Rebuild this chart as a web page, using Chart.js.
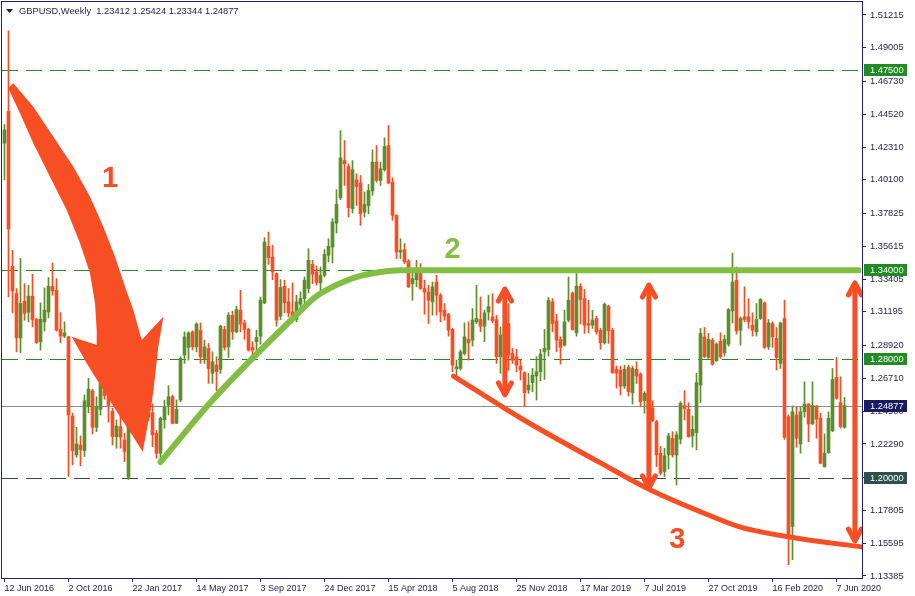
<!DOCTYPE html>
<html><head><meta charset="utf-8">
<script src="https://cdn.jsdelivr.net/npm/chart.js@4.4.1/dist/chart.umd.min.js"></script>
<style>html,body{margin:0;padding:0;background:#fff;}canvas{display:block}</style>
</head><body>
<canvas id="c" width="915" height="596"></canvas>
<script>
// ---- data (weekly GBPUSD candles, index 0 = week of 12 Jun 2016) ----
const opens = [
1.4257,1.4472,1.3427,1.3243,1.2944,1.3191,1.3117,1.3225,1.3070,1.2918,
1.3052,1.3119,1.3292,1.3265,1.3003,1.2956,1.2951,1.2417,1.2155,1.2222,
1.2184,1.2480,1.2588,1.2341,1.2462,1.2630,1.2550,1.2450,1.2278,1.2345,
1.2256,1.2005,1.2375,1.2550,1.2480,1.2485,1.2410,1.2440,1.2301,1.2166,
1.2392,1.2491,1.2547,1.2368,1.2525,1.2828,1.2880,1.2985,1.2884,1.2996,
1.2806,1.2873,1.2705,1.2761,1.2732,1.3001,1.2884,1.3097,1.2985,1.3131,
1.3045,1.3001,1.2880,1.2918,1.2956,1.3180,1.3562,1.3490,1.3378,1.3090,
1.3292,1.3187,1.3119,1.3068,1.3171,1.3209,1.3277,1.3440,1.3390,1.3315,
1.3366,1.3501,1.3557,1.3718,1.3889,1.4140,1.4100,1.3816,1.4010,1.3988,
1.3792,1.3837,1.3935,1.4129,1.4006,1.4078,1.4241,1.3994,1.3770,1.3523,
1.3539,1.3463,1.3310,1.3337,1.3411,1.3277,1.3254,1.3187,1.3321,1.3232,
1.3131,1.3104,1.3001,1.2736,1.2738,1.2839,1.2934,1.2929,1.3052,1.3068,
1.3023,1.3119,1.3086,1.3068,1.2817,1.2960,1.3040,1.2839,1.2817,1.2754,
1.2709,1.2593,1.2642,1.2687,1.2716,1.2850,1.2866,1.3187,1.3059,1.2934,
1.2895,1.3064,1.3247,1.2978,1.3292,1.3209,1.3041,1.3030,1.3075,1.2996,
1.2911,1.3158,1.2996,1.2733,1.2727,1.2619,1.2745,1.2574,1.2733,1.2700,
1.2521,1.2570,1.2470,1.2379,1.2166,1.2043,1.2155,1.2267,1.2155,1.2261,
1.2487,1.2462,1.2283,1.2305,1.2626,1.2951,1.2812,1.2929,1.2790,1.2922,
1.2844,1.2902,1.3126,1.3333,1.2996,1.3086,1.3086,1.3030,1.2985,1.3075,
1.3180,1.2884,1.3041,1.2940,1.2772,1.3075,1.2413,1.1673,1.2424,1.2229,
1.2446,1.2498,1.2364,1.2485,1.2402,1.2076,1.2171,1.2318,1.2678,1.2507,
1.23412];
const highs = [
1.4383,1.5015,1.3535,1.3277,1.3481,1.3310,1.3299,1.3373,1.3075,1.3180,
1.3281,1.3351,1.3449,1.3344,1.3115,1.3052,1.2955,1.2436,1.2341,1.2283,
1.2559,1.2671,1.2597,1.2547,1.2664,1.2700,1.2660,1.2470,1.2391,1.2430,
1.2301,1.2430,1.2675,1.2705,1.2580,1.2550,1.2570,1.2500,1.2320,1.2410,
1.2525,1.2622,1.2559,1.2525,1.2817,1.2985,1.2985,1.2992,1.3045,1.3045,
1.2929,1.2907,1.2850,1.2817,1.3030,1.3023,1.3115,1.3124,1.3158,1.3265,
1.3064,1.3008,1.2918,1.2996,1.3220,1.3620,1.3658,1.3568,1.3382,1.3337,
1.3333,1.3277,1.3315,1.3232,1.3254,1.3355,1.3546,1.3467,1.3430,1.3422,
1.3539,1.3613,1.3748,1.3943,1.4342,1.4275,1.4118,1.4140,1.4051,1.4039,
1.3928,1.3979,1.4212,1.4241,1.4129,1.4293,1.4376,1.4024,1.3775,1.3613,
1.3580,1.3472,1.3411,1.3467,1.3445,1.3333,1.3299,1.3321,1.3366,1.3243,
1.3176,1.3110,1.3008,1.2794,1.2862,1.3045,1.3052,1.3142,1.3299,1.3220,
1.3131,1.3232,1.3243,1.3097,1.3018,1.3175,1.3175,1.2873,1.2867,1.2799,
1.2716,1.2705,1.2738,1.2817,1.2867,1.3001,1.3216,1.3209,1.3104,1.2951,
1.3131,1.3355,1.3254,1.3378,1.3310,1.3270,1.3198,1.3131,1.3090,1.3008,
1.3180,1.3165,1.3008,1.2754,1.2754,1.2761,1.2761,1.2754,1.2783,1.2709,
1.2581,1.2580,1.2520,1.2390,1.2211,1.2200,1.2301,1.2312,1.2312,1.2514,
1.2588,1.2507,1.2417,1.2705,1.3008,1.3014,1.2974,1.2940,1.2911,1.2978,
1.2963,1.3142,1.3516,1.3422,1.3086,1.3288,1.3209,1.3113,1.3176,1.3209,
1.3187,1.3068,1.3052,1.3014,1.3050,1.3198,1.2424,1.2485,1.2480,1.2480,
1.2648,1.2500,1.2648,1.2489,1.2436,1.2296,1.2445,1.2738,1.2812,1.2682,
1.25424];
const lows = [
1.4010,1.3220,1.3113,1.2850,1.2843,1.3063,1.3052,1.3018,1.2907,1.2862,
1.2990,1.3079,1.3232,1.2990,1.2911,1.2945,1.2010,1.2088,1.2139,1.2081,
1.2144,1.2440,1.2296,1.2312,1.2424,1.2530,1.2375,1.2222,1.2200,1.2200,
1.2110,1.1990,1.2365,1.2410,1.2345,1.2380,1.2385,1.2210,1.2133,1.2106,
1.2335,1.2424,1.2364,1.2365,1.2514,1.2772,1.2794,1.2862,1.2850,1.2772,
1.2772,1.2637,1.2637,1.2588,1.2705,1.2862,1.2812,1.2934,1.2980,1.2985,
1.2934,1.2855,1.2812,1.2828,1.2902,1.3175,1.3440,1.3337,1.3023,1.3068,
1.3113,1.3086,1.3045,1.3052,1.3113,1.3180,1.3247,1.3310,1.3299,1.3247,
1.3355,1.3456,1.3449,1.3651,1.3876,1.3972,1.3759,1.3786,1.3837,1.3703,
1.3759,1.3781,1.3905,1.3994,1.3972,1.4068,1.3985,1.3737,1.3479,1.3479,
1.3445,1.3285,1.3198,1.3288,1.3270,1.3104,1.3041,1.3097,1.3097,1.3052,
1.3064,1.2956,1.2716,1.2682,1.2727,1.2828,1.2794,1.2889,1.3041,1.2985,
1.2918,1.3064,1.3045,1.2772,1.2705,1.2930,1.2725,1.2772,1.2716,1.2660,
1.2480,1.2570,1.2581,1.2525,1.2655,1.2664,1.2821,1.2985,1.2850,1.2767,
1.2889,1.3052,1.2996,1.2956,1.3037,1.2974,1.2978,1.3008,1.2969,1.2867,
1.2902,1.2907,1.2705,1.2605,1.2559,1.2604,1.2552,1.2498,1.2637,1.2480,
1.2436,1.2440,1.2380,1.2076,1.2020,1.2009,1.2060,1.2139,1.1953,1.2229,
1.2391,1.2274,1.2207,1.2189,1.2507,1.2812,1.2806,1.2761,1.2785,1.2806,
1.2821,1.2889,1.3045,1.2969,1.2895,1.3052,1.3008,1.2956,1.2956,1.3068,
1.2873,1.2867,1.2880,1.2727,1.2738,1.2260,1.1415,1.1448,1.2207,1.2167,
1.2409,1.2244,1.2360,1.2267,1.2094,1.2072,1.2165,1.2312,1.2530,1.2335,
1.23344];
const closes = [
1.4347,1.3678,1.3261,1.2944,1.3176,1.3109,1.3225,1.3068,1.2911,1.3070,
1.3131,1.3292,1.3261,1.2996,1.2956,1.2978,1.2424,1.2184,1.2229,1.2189,
1.2520,1.2599,1.2341,1.2480,1.2637,1.2555,1.2490,1.2278,1.2350,1.2275,
1.2178,1.2370,1.2550,1.2480,1.2490,1.2410,1.2470,1.2290,1.2166,1.2402,
1.2476,1.2547,1.2368,1.2462,1.2806,1.2951,1.2978,1.2884,1.3037,1.2816,
1.2884,1.2738,1.2783,1.2716,1.3023,1.2880,1.3097,1.2985,1.3135,1.3037,
1.3001,1.2862,1.2862,1.2947,1.3198,1.3590,1.3485,1.3389,1.3064,1.3284,
1.3180,1.3113,1.3064,1.3187,1.3209,1.3333,1.3467,1.3373,1.3318,1.3366,
1.3508,1.3562,1.3725,1.3844,1.4158,1.4118,1.3822,1.4078,1.3965,1.3781,
1.3844,1.3938,1.4129,1.4006,1.4084,1.4235,1.3988,1.3770,1.3523,1.3535,
1.3456,1.3288,1.3344,1.3411,1.3277,1.3254,1.3198,1.3288,1.3232,1.3119,
1.3090,1.2996,1.2761,1.2749,1.2850,1.2951,1.2911,1.3064,1.3075,1.3023,
1.3113,1.3155,1.3059,1.2817,1.2963,1.3040,1.2830,1.2794,1.2761,1.2727,
1.2574,1.2626,1.2693,1.2716,1.2835,1.2873,1.3198,1.3041,1.2929,1.2880,
1.3052,1.3198,1.3001,1.3292,1.3203,1.3030,1.3030,1.3064,1.2985,1.2911,
1.3171,1.2992,1.2709,1.2705,1.2619,1.2733,1.2581,1.2738,1.2687,1.2514,
1.2570,1.2470,1.2385,1.2155,1.2032,1.2148,1.2283,1.2155,1.2290,1.2503,
1.2469,1.2278,1.2328,1.2642,1.2974,1.2817,1.2934,1.2767,1.2902,1.2817,
1.2934,1.3135,1.3321,1.2992,1.3075,1.3068,1.3052,1.2996,1.3068,1.3203,
1.2880,1.3045,1.2951,1.2812,1.3045,1.2274,1.1617,1.2446,1.2267,1.2446,
1.2498,1.2364,1.2489,1.2395,1.2099,1.2166,1.2402,1.2664,1.2537,1.2346,
1.24877];

const dateLabels = ['12 Jun 2016','2 Oct 2016','22 Jan 2017','14 May 2017','3 Sep 2017','24 Dec 2017','15 Apr 2018','5 Aug 2018','25 Nov 2018','17 Mar 2019','7 Jul 2019','27 Oct 2019','16 Feb 2020','7 Jun 2020'];
const dateTickIndex = [0,16,32,48,64,80,96,112,128,144,160,176,192,208];
const priceTicks = [1.51215,1.49005,1.46730,1.44520,1.42310,1.40100,1.37825,1.35615,1.33405,1.31195,1.28920,1.26710,1.24500,1.22290,1.20015,1.17805,1.15595,1.13385];
const levelPrices = [1.47500, 1.34000, 1.28000, 1.20000];
const lastPrice = 1.24877;
const symbolName = 'GBPUSD,Weekly';
const lastBar = [1.23412, 1.25424, 1.23344, 1.24877];

// annotation "2": green support/resistance curve (index, price)
const trend2X = [39, 52.25, 74, 77.75, 81.5, 85.25, 89, 94, 99, 213.5];
const trend2Y = [1.2107, 1.2532, 1.3126, 1.3220, 1.3281, 1.3328, 1.3362, 1.3389, 1.3400, 1.3400];
// annotation "3": red descending curve
const curve3X = [112.25, 129, 149, 161.5, 174, 184, 199, 214.5];
const curve3Y = [1.2687, 1.2404, 1.2101, 1.1919, 1.1772, 1.1668, 1.1590, 1.1534];
// annotation "1": big curved arrow outline (index, price)
const arrow1X = [0.95, 2.2, 7.2, 12.2, 17.2, 21.375, 24.7, 27.625, 30.125, 32.2, 34.3, 39.7, 38.45, 37.625, 36.8, 35.55, 34.55,
  32.2, 28.875, 24.7, 20.55, 16.8, 23.05, 23.05, 22.625, 21.375, 18.875, 15.55, 11.375, 7.2, 3.875];
const arrow1Y = [1.46272, 1.46610, 1.45032, 1.43009, 1.40986, 1.38963, 1.36940, 1.34917, 1.32894, 1.31323, 1.29300, 1.30871, 1.28849, 1.26826, 1.25032, 1.23232, 1.21768,
  1.22780, 1.24128, 1.25929, 1.27729, 1.29523, 1.28963, 1.29975, 1.31775, 1.33798, 1.35821, 1.38066, 1.40312, 1.42564, 1.44587];
// double-headed range arrows
const dArrowX = [125.1, 161.1, 212.6];
const dArrowTop = [1.3287, 1.3314, 1.3328];
const dArrowBottom = [1.2546, 1.1919, 1.1561];
// numbered notes
const noteText = ['1', '2', '3'];
const noteX = [26.4, 112, 168.2];
const noteY = [1.4016, 1.3537, 1.1581];

// ---- styles ----
const RED = '#F84E24', GREEN_C = '#5B8F2C', LIME = '#82BE44', NAVY = '#20206e', TXT = '#1c1c4c';
const levelColors = ['#238b23', '#238b23', '#238b23', '#2f4f4f'];
const levelBoxColors = ['#238b23', '#238b23', '#238b23', '#2f4f4f'];
const FONT = 'Liberation Sans, Arial, sans-serif';

const idx = opens.map((_, i) => i);
const candleColors = idx.map(i => closes[i] >= opens[i] ? GREEN_C : RED);

const overlay = {
  id: 'overlay',
  beforeDatasetsDraw(chart) {
    const {ctx, chartArea: a, scales: {y}} = chart;
    ctx.save();
    ctx.beginPath(); ctx.rect(a.left, a.top, a.right - a.left, a.bottom - a.top); ctx.clip();
    ctx.lineWidth = 1;
    levelPrices.forEach((p, k) => {
      const py = Math.round(y.getPixelForValue(p)) + 0.5;
      ctx.strokeStyle = levelColors[k];
      ctx.setLineDash([16, 8]);
      ctx.beginPath(); ctx.moveTo(a.left, py); ctx.lineTo(a.right, py); ctx.stroke();
    });
    ctx.setLineDash([]);
    const ly = Math.round(y.getPixelForValue(lastPrice)) + 0.5;
    ctx.strokeStyle = '#8a9099';
    ctx.beginPath(); ctx.moveTo(a.left, ly); ctx.lineTo(a.right, ly); ctx.stroke();
    ctx.restore();
  },
  afterDatasetsDraw(chart) {
    const {ctx, chartArea: a, scales: {x, y}} = chart;
    ctx.save();
    ctx.beginPath(); ctx.rect(a.left, a.top, a.right - a.left, a.bottom - a.top); ctx.clip();
    // arrow 1
    ctx.fillStyle = RED;
    ctx.beginPath();
    arrow1X.forEach((v, k) => {
      const px = x.getPixelForValue(v), py = y.getPixelForValue(arrow1Y[k]);
      if (k === 0) ctx.moveTo(px, py); else ctx.lineTo(px, py);
    });
    ctx.closePath(); ctx.fill();
    // double arrows
    ctx.strokeStyle = RED; ctx.lineWidth = 5; ctx.lineCap = 'round'; ctx.lineJoin = 'round';
    dArrowX.forEach((v, k) => {
      const px = x.getPixelForValue(v);
      const t = y.getPixelForValue(dArrowTop[k]) + 2, b = y.getPixelForValue(dArrowBottom[k]) - 2;
      ctx.beginPath(); ctx.moveTo(px, t + 2); ctx.lineTo(px, b - 2); ctx.stroke();
      ctx.beginPath(); ctx.moveTo(px - 6.5, t + 12); ctx.lineTo(px, t); ctx.lineTo(px + 6.5, t + 12); ctx.stroke();
      ctx.beginPath(); ctx.moveTo(px - 6.5, b - 12); ctx.lineTo(px, b); ctx.lineTo(px + 6.5, b - 12); ctx.stroke();
    });
    // notes
    ctx.font = 'bold 29px ' + FONT; ctx.textAlign = 'center'; ctx.textBaseline = 'middle';
    noteText.forEach((s, k) => {
      ctx.fillStyle = k === 1 ? LIME : RED;
      ctx.fillText(s, x.getPixelForValue(noteX[k]), y.getPixelForValue(noteY[k]));
    });
    ctx.restore();
  },
  afterDraw(chart) {
    const {ctx, chartArea: a, scales: {y}} = chart;
    ctx.save();
    ctx.strokeStyle = NAVY; ctx.lineWidth = 1;
    ctx.strokeRect(a.left - 0.5, a.top - 0.5, a.right - a.left + 1, a.bottom - a.top + 1);
    ctx.font = '9.3px ' + FONT; ctx.textBaseline = 'middle'; ctx.textAlign = 'left';
    const box = (p, bg) => {
      const py = Math.round(y.getPixelForValue(p));
      ctx.fillStyle = bg; ctx.fillRect(a.right + 2, py - 6, 43, 12);
      ctx.fillStyle = '#ffffff'; ctx.fillText(p.toFixed(5), a.right + 8, py + 0.5);
    };
    levelPrices.forEach((p, k) => box(p, levelBoxColors[k]));
    box(lastPrice, '#1b1b5e');
    // header
    ctx.fillStyle = TXT;
    ctx.beginPath(); ctx.moveTo(6, 9); ctx.lineTo(13, 9); ctx.lineTo(9.5, 13); ctx.closePath(); ctx.fill();
    ctx.fillText(symbolName + '  ' + lastBar.map(v => v.toFixed(5)).join(' '), 19, 11);
    ctx.restore();
  }
};

new Chart(document.getElementById('c'), {
  type: 'bar',
  data: {
    datasets: [
      { type: 'line', data: trend2X.map((v, k) => ({x: v, y: trend2Y[k]})), borderColor: LIME, borderWidth: 6,
        pointRadius: 0, fill: false, cubicInterpolationMode: 'monotone', borderCapStyle: 'round' },
      { type: 'line', data: curve3X.map((v, k) => ({x: v, y: curve3Y[k]})), borderColor: RED, borderWidth: 5,
        pointRadius: 0, fill: false, cubicInterpolationMode: 'monotone', borderCapStyle: 'round' },
      { type: 'bar', data: idx.map(i => ({x: i, y: [opens[i], closes[i]]})), backgroundColor: candleColors,
        barThickness: 3, minBarLength: 1, grouped: false, borderWidth: 0 },
      { type: 'bar', data: idx.map(i => ({x: i, y: [lows[i], highs[i]]})), backgroundColor: candleColors,
        barThickness: 1, grouped: false, borderWidth: 0 }
    ]
  },
  options: {
    responsive: false, animation: false, devicePixelRatio: 1,
    layout: { padding: { left: 2, top: 2, right: 0, bottom: 0 } },
    plugins: { legend: { display: false }, tooltip: { enabled: false } },
    scales: {
      x: {
        type: 'linear', position: 'bottom', min: -0.625, max: 214.375, offset: false,
        grid: { drawOnChartArea: false, drawTicks: true, tickLength: 4, color: NAVY, offset: false },
        border: { display: true, color: NAVY },
        ticks: { autoSkip: false, minRotation: 0, maxRotation: 0, align: 'start', padding: 1,
          font: { family: FONT, size: 9 }, color: TXT,
          callback: (v, i) => dateLabels[i] },
        afterBuildTicks: s => { s.ticks = dateTickIndex.map(v => ({value: v})); },
        afterFit: s => { s.height = 18; s.paddingLeft = 0; s.paddingRight = 0; }
      },
      y: {
        type: 'linear', position: 'right', min: 1.1325, max: 1.5209,
        grid: { drawOnChartArea: false, drawTicks: true, tickLength: 4, color: NAVY },
        border: { display: true, color: NAVY },
        ticks: { padding: 4, font: { family: FONT, size: 9.3 }, color: TXT, callback: v => v.toFixed(5) },
        afterBuildTicks: s => { s.ticks = priceTicks.map(v => ({value: v})); },
        afterFit: s => { s.width = 53; s.paddingTop = 0; s.paddingBottom = 0; }
      }
    }
  },
  plugins: [overlay]
});
</script>
</body></html>
